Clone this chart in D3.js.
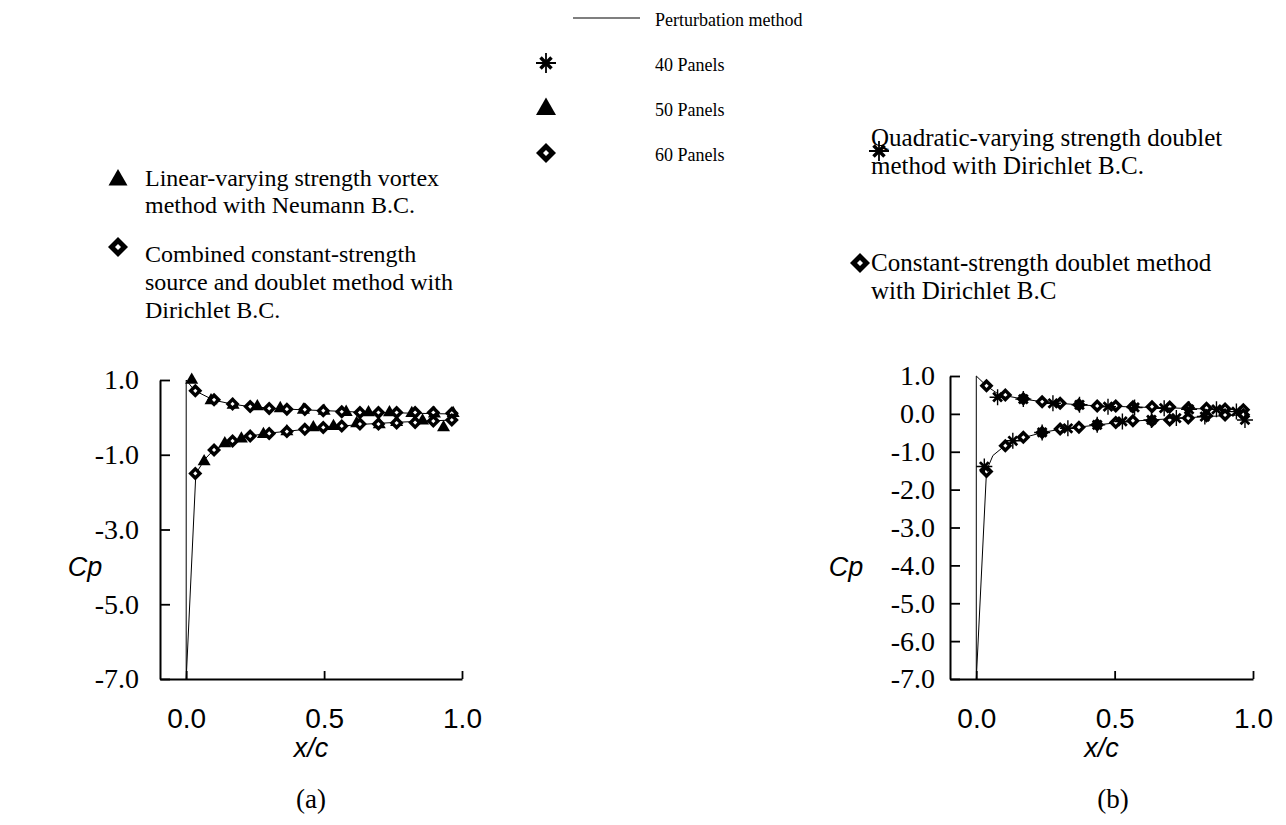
<!DOCTYPE html>
<html>
<head>
<meta charset="utf-8">
<script src="https://cdn.jsdelivr.net/npm/d3@7"></script>
<style>
  body { margin: 0; background: #fff; }
  .serif { font-family: "Liberation Serif", "Times New Roman", serif; }
  .sans { font-family: "Liberation Sans", Arial, sans-serif; }
</style>
</head>
<body>
<svg id="chart" width="1286" height="825"></svg>
<script>
// ---- data ----
// (a) perturbation method, upper and lower surface
var pertA_upper_x  = [0, 0.03, 0.1, 0.17, 0.23, 0.3, 0.37, 0.43, 0.5, 0.57, 0.63, 0.7, 0.77, 0.83, 0.9, 0.97];
var pertA_upper_cp = [1.0, 0.72, 0.46, 0.35, 0.29, 0.25, 0.22, 0.2, 0.18, 0.16, 0.14, 0.13, 0.12, 0.11, 0.1, 0.09];
var pertA_lower_x  = [0, 0.035, 0.07, 0.1, 0.17, 0.23, 0.3, 0.37, 0.43, 0.5, 0.57, 0.63, 0.7, 0.77, 0.83, 0.9, 0.97];
var pertA_lower_cp = [-7.0, -1.5, -1.1, -0.87, -0.63, -0.5, -0.42, -0.37, -0.32, -0.27, -0.23, -0.19, -0.16, -0.13, -0.11, -0.09, -0.07];

// (a) 60 panels (diamonds)
var p60A_x        = [0.033, 0.101, 0.168, 0.232, 0.301, 0.365, 0.43, 0.497, 0.564, 0.630, 0.697, 0.763, 0.830, 0.896, 0.963];
var p60A_upper_cp = [0.71, 0.47, 0.36, 0.29, 0.24, 0.22, 0.21, 0.18, 0.15, 0.13, 0.13, 0.13, 0.13, 0.13, 0.11];
var p60A_lower_cp = [-1.50, -0.87, -0.63, -0.50, -0.43, -0.38, -0.32, -0.27, -0.23, -0.18, -0.18, -0.15, -0.14, -0.10, -0.07];

// (a) 50 panels (triangles)
var p50A_upper_x  = [0.02, 0.09, 0.17, 0.258, 0.341, 0.425, 0.50, 0.58, 0.661, 0.737, 0.818, 0.90, 0.968];
var p50A_upper_cp = [1.02, 0.47, 0.35, 0.31, 0.26, 0.22, 0.19, 0.16, 0.15, 0.15, 0.13, 0.12, 0.13];
var p50A_lower_x  = [0.065, 0.14, 0.20, 0.28, 0.365, 0.461, 0.534, 0.618, 0.70, 0.763, 0.857, 0.933];
var p50A_lower_cp = [-1.16, -0.68, -0.55, -0.43, -0.36, -0.25, -0.22, -0.14, -0.17, -0.11, -0.07, -0.25];

// (b) perturbation method
var pertB_upper_x  = [0, 0.037, 0.08, 0.105, 0.17, 0.24, 0.3, 0.37, 0.44, 0.5, 0.57, 0.64, 0.7, 0.77, 0.83, 0.9, 0.97];
var pertB_upper_cp = [1.0, 0.74, 0.52, 0.48, 0.39, 0.32, 0.28, 0.24, 0.21, 0.2, 0.18, 0.17, 0.16, 0.14, 0.13, 0.12, 0.1];
var pertB_lower_x  = [0, 0.037, 0.06, 0.1, 0.17, 0.24, 0.3, 0.37, 0.44, 0.5, 0.57, 0.63, 0.7, 0.77, 0.83, 0.9, 0.97];
var pertB_lower_cp = [-7.0, -1.5, -1.1, -0.86, -0.63, -0.49, -0.41, -0.35, -0.29, -0.24, -0.19, -0.16, -0.13, -0.1, -0.07, -0.05, -0.02];

// (b) 60 panels (diamonds)
var p60B_x        = [0.037, 0.105, 0.170, 0.238, 0.303, 0.371, 0.437, 0.504, 0.566, 0.635, 0.699, 0.766, 0.832, 0.899, 0.965];
var p60B_upper_cp = [0.74, 0.50, 0.40, 0.32, 0.28, 0.24, 0.21, 0.21, 0.19, 0.19, 0.18, 0.16, 0.15, 0.13, 0.11];
var p60B_lower_cp = [-1.52, -0.84, -0.62, -0.49, -0.40, -0.35, -0.29, -0.23, -0.18, -0.18, -0.16, -0.11, -0.05, -0.03, -0.02];

// (b) 40 panels (asterisks)
var p40B_upper_x  = [0.077, 0.170, 0.277, 0.373, 0.476, 0.572, 0.679, 0.769, 0.868, 0.94];
var p40B_upper_cp = [0.44, 0.39, 0.28, 0.24, 0.19, 0.17, 0.15, 0.12, 0.12, 0.06];
var p40B_lower_x  = [0.029, 0.132, 0.238, 0.331, 0.437, 0.528, 0.633, 0.723, 0.826, 0.971];
var p40B_lower_cp = [-1.39, -0.71, -0.49, -0.38, -0.29, -0.20, -0.16, -0.11, -0.07, -0.16];

var ticksA_y = [1, -1, -3, -5, -7];
var ticksB_y = [1, 0, -1, -2, -3, -4, -5, -6, -7];
var ticks_x = [0, 0.5, 1];

var legendLabels = ["Perturbation method", "40 Panels", "50 Panels", "60 Panels"];
var legendKinds = ["line", "star", "triangle", "diamond"];

var labelA1 = ["Linear-varying strength vortex", "method with Neumann B.C."];
var labelA2 = ["Combined constant-strength", "source and doublet method with", "Dirichlet B.C."];
var labelB1 = ["Quadratic-varying strength doublet", "method with Dirichlet B.C."];
var labelB2 = ["Constant-strength doublet method", "with Dirichlet B.C"];

// ---- helpers ----
function zip(xs, ys) { return xs.map(function (x, i) { return [x, ys[i]]; }); }

var svg = d3.select("#chart");
svg.append("rect").attr("width", 1286).attr("height", 825).attr("fill", "#fff");

// marker drawing: kind, centre, s = size in px (width)
function drawMarker(g, kind, cx, cy, s) {
  if (kind == "triangle") {
    var h = s * 0.87;
    g.append("path")
      .attr("d", "M" + cx + "," + (cy - h * 0.6) + "L" + (cx + s / 2) + "," + (cy + h * 0.4) + "L" + (cx - s / 2) + "," + (cy + h * 0.4) + "Z")
      .attr("fill", "#000");
  } else if (kind == "diamond") {
    var r = s / 2;
    g.append("path")
      .attr("d", "M" + cx + "," + (cy - r) + "L" + (cx + r) + "," + cy + "L" + cx + "," + (cy + r) + "L" + (cx - r) + "," + cy + "Z")
      .attr("fill", "#000");
    var ri = r * 0.3;
    g.append("path")
      .attr("d", "M" + cx + "," + (cy - ri) + "L" + (cx + ri) + "," + cy + "L" + cx + "," + (cy + ri) + "L" + (cx - ri) + "," + cy + "Z")
      .attr("fill", "#fff");
  } else if (kind == "star") {
    var r = s / 2;
    g.append("path")
      .attr("d", "M" + cx + "," + (cy - r) + "V" + (cy + r) + "M" + (cx - r) + "," + cy + "H" + (cx + r))
      .attr("stroke", "#000").attr("stroke-width", s > 16 ? 1.8 : 1.4);
    var d = r * 0.55;
    g.append("path")
      .attr("d", "M" + (cx - d) + "," + (cy - d) + "L" + (cx + d) + "," + (cy + d) + "M" + (cx - d) + "," + (cy + d) + "L" + (cx + d) + "," + (cy - d))
      .attr("stroke", "#000").attr("stroke-width", s > 16 ? 3.5 : 2.8);
  }
}

function panel(opt) {
  var x = d3.scaleLinear().domain([-0.095, 1]).range(opt.xr);
  var y = d3.scaleLinear().domain([-7, 1]).range(opt.yr);
  var g = svg.append("g");

  var yAxis = d3.axisLeft(y).tickValues(opt.yticks).tickSizeInner(-10).tickSizeOuter(0)
    .tickPadding(opt.ypad).tickFormat(function (d) { return d.toFixed(1); });
  var ya = g.append("g").attr("transform", "translate(" + opt.xr[0] + ",0)").call(yAxis);
  ya.selectAll("text").attr("class", "serif").attr("font-size", 28).attr("fill", "#000");

  var xAxis = d3.axisBottom(x).tickValues(ticks_x).tickSizeInner(-8).tickSizeOuter(0)
    .tickPadding(29).tickFormat(function (d) { return d.toFixed(1); });
  var xa = g.append("g").attr("transform", "translate(0," + opt.yr[0] + ")").call(xAxis);
  xa.selectAll("text").attr("class", "sans").attr("font-size", 28).attr("fill", "#000");

  [ya, xa].forEach(function (a) {
    a.select(".domain").attr("stroke", "#000").attr("stroke-width", 2);
    a.selectAll(".tick line").attr("stroke", "#000").attr("stroke-width", 1.8);
  });

  // perturbation line: upper surface from TE to LE, then lower surface
  var pts = zip(opt.pertUx, opt.pertUc).reverse().concat(zip(opt.pertLx, opt.pertLc));
  var line = d3.line().x(function (d) { return x(d[0]); }).y(function (d) { return y(d[1]); });
  g.append("path").datum(pts).attr("d", line).attr("fill", "none")
    .attr("stroke", "#000").attr("stroke-width", 1);

  opt.series.forEach(function (s) {
    zip(s.x, s.cp).forEach(function (p) {
      drawMarker(g, s.kind, x(p[0]), y(p[1]), s.size);
    });
  });

  // axis titles
  g.append("text").attr("class", "sans").attr("font-size", 27).attr("font-style", "italic")
    .attr("x", opt.cpX).attr("y", 576).attr("text-anchor", "middle").text("Cp");
  g.append("text").attr("class", "sans").attr("font-size", 27).attr("font-style", "italic")
    .attr("x", (opt.xr[0] + opt.xr[1]) / 2).attr("y", 757).attr("text-anchor", "middle").text("x/c");
  g.append("text").attr("class", "serif").attr("font-size", 27)
    .attr("x", opt.capX).attr("y", 808).attr("text-anchor", "middle").text(opt.caption);
}

panel({
  xr: [160, 462], yr: [679, 380], yticks: ticksA_y, ypad: 21, cpX: 85, capX: 311, caption: "(a)",
  pertUx: pertA_upper_x, pertUc: pertA_upper_cp, pertLx: pertA_lower_x, pertLc: pertA_lower_cp,
  series: [
    { kind: "triangle", x: p50A_upper_x, cp: p50A_upper_cp, size: 13 },
    { kind: "triangle", x: p50A_lower_x, cp: p50A_lower_cp, size: 13 },
    { kind: "diamond", x: p60A_x, cp: p60A_upper_cp, size: 14 },
    { kind: "diamond", x: p60A_x, cp: p60A_lower_cp, size: 14 }
  ]
});

panel({
  xr: [950, 1253], yr: [679, 376], yticks: ticksB_y, ypad: 15, cpX: 846, capX: 1113, caption: "(b)",
  pertUx: pertB_upper_x, pertUc: pertB_upper_cp, pertLx: pertB_lower_x, pertLc: pertB_lower_cp,
  series: [
    { kind: "diamond", x: p60B_x, cp: p60B_upper_cp, size: 14 },
    { kind: "diamond", x: p60B_x, cp: p60B_lower_cp, size: 14 },
    { kind: "star", x: p40B_upper_x, cp: p40B_upper_cp, size: 16 },
    { kind: "star", x: p40B_lower_x, cp: p40B_lower_cp, size: 16 }
  ]
});

// ---- top legend ----
var lg = svg.append("g");
legendLabels.forEach(function (t, i) {
  var cy = 20 + i * 45;
  if (legendKinds[i] == "line") {
    lg.append("line").attr("x1", 573).attr("x2", 640).attr("y1", cy - 2).attr("y2", cy - 2)
      .attr("stroke", "#000").attr("stroke-width", 1.2);
  } else {
    drawMarker(lg, legendKinds[i], 546, cy - 2, 20);
  }
  lg.append("text").attr("class", "serif").attr("font-size", 18)
    .attr("x", 655).attr("y", cy + 6).text(t);
});

// ---- method labels ----
function methodLabel(lines, x, y, lh, fs) {
  var t = svg.append("text").attr("class", "serif").attr("font-size", fs).attr("fill", "#000");
  lines.forEach(function (s, i) {
    t.append("tspan").attr("x", x).attr("y", y + i * lh).text(s);
  });
}
drawMarker(svg, "triangle", 118, 179, 19);
methodLabel(labelA1, 145, 186, 27, 24);
drawMarker(svg, "diamond", 118, 247, 20);
methodLabel(labelA2, 145, 262, 28, 24);
drawMarker(svg, "star", 879, 151, 20);
methodLabel(labelB1, 871, 146, 28, 25);
drawMarker(svg, "diamond", 860, 263, 20);
methodLabel(labelB2, 871, 271, 28, 25);
</script>
</body>
</html>
